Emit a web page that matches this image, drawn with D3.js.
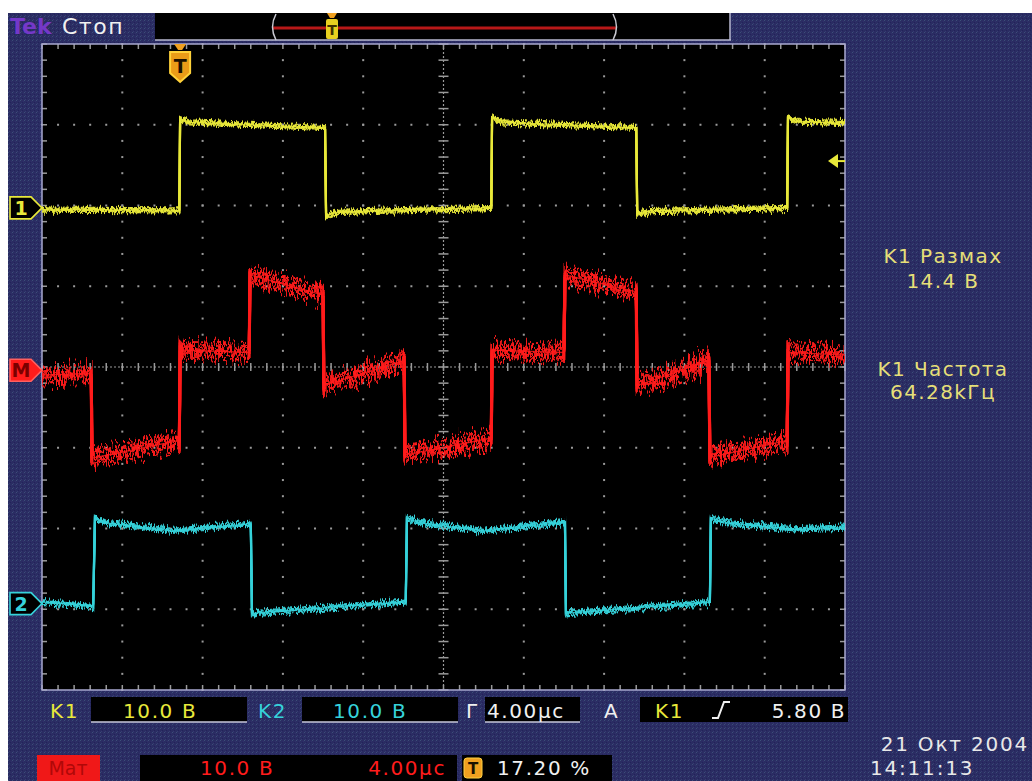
<!DOCTYPE html>
<html>
<head>
<meta charset="utf-8">
<script src="https://cdn.jsdelivr.net/npm/d3@7"></script>
<style>
  body { margin: 0; background: #ffffff; }
  svg { display: block; }
  text { font-family: "DejaVu Sans", sans-serif; }
</style>
</head>
<body>
<svg id="scope" width="1032" height="781"></svg>
<script>
// ---- Acquisition settings ----
const timeDomain = [0, 40];          // µs across 10 divisions (4.00 µs/div)
const divisionDomain = [-4, 4];      // vertical divisions
const k1VoltsPerDiv = 10;
const k2VoltsPerDiv = 10;
const mathVoltsPerDiv = 10;
const k1OffsetDiv = 1.97;
const k2OffsetDiv = -2.93;
const mathOffsetDiv = -0.04;
const triggerLevel = 5.80;           // V, on K1
const triggerPercent = 17.20;        // trigger position in record

// ---- Traces: [time µs, volts] ----
const k1Trace = [
  [0, -0.2], [6.84, -0.3], [6.88, 11.0], [7.3, 10.6], [14.1, 9.9],
  [14.15, -0.9], [14.8, -0.5], [22.38, 0.0], [22.42, 11.2], [22.9, 10.6],
  [29.6, 9.9], [29.65, -0.7], [30.3, -0.4], [37.12, 0.0], [37.16, 11.2],
  [37.6, 10.7], [40, 10.5]
];
const k2Trace = [
  [0, 0.2], [2.55, -0.3], [2.64, 10.6], [3.2, 10.0], [6.5, 9.0], [10.4, 9.9],
  [10.46, -1.2], [18.12, 0.25], [18.18, 10.6], [18.8, 10.0], [22.0, 9.0],
  [26.05, 10.1], [26.1, -1.2], [33.27, 0.2], [33.32, 10.6], [34.0, 10.0],
  [37.5, 9.2], [40, 9.4]
];
const mathTrace = [
  [0, -0.6], [2.45, -0.4], [2.49, -10.9], [6.84, -8.7], [6.88, 2.5],
  [10.32, 2.2], [10.36, 11.8], [14.0, 9.3], [14.04, -1.9], [18.04, 1.2],
  [18.08, -10.5], [22.38, -8.4], [22.42, 2.5], [26.0, 2.2], [26.05, 11.8],
  [29.6, 9.7], [29.64, -1.9], [33.22, 1.2], [33.27, -10.8], [37.12, -8.7],
  [37.16, 2.2], [40, 1.9]
];

// ---- Readouts ----
const headerLabels = ["Tek", "Стоп"];
const measureLabels = ["K1 Размах", "14.4 В", "K1 Частота", "64.28kГц"];
const statusRow1 = ["K1", "10.0 В", "K2", "10.0 В", "Г", "4.00µс", "A", "K1", "5.80 В"];
const statusRow2 = ["Мат", "10.0 В", "4.00µс", "17.20 %"];
const dateLabels = ["21 Окт 2004", "14:11:13"];

// ---- Colours ----
const cYellow = "#e8e83a";
const cRed = "#ff1c1c";
const cCyan = "#36d2da";
const cText = "#e6df78";
const cGrid = "#9a9a9a";

const svg = d3.select("#scope");
const defs = svg.append("defs");

// dithered navy panel
const pat = defs.append("pattern").attr("id", "navy").attr("width", 4).attr("height", 4)
  .attr("patternUnits", "userSpaceOnUse");
pat.append("rect").attr("width", 4).attr("height", 4).attr("fill", "#2a2c62");
pat.append("rect").attr("x", 0).attr("y", 0).attr("width", 1).attr("height", 1).attr("fill", "#3c4e78");
pat.append("rect").attr("x", 2).attr("y", 2).attr("width", 1).attr("height", 1).attr("fill", "#22225a");
pat.append("rect").attr("x", 1).attr("y", 3).attr("width", 1).attr("height", 1).attr("fill", "#363c72");
pat.append("rect").attr("x", 3).attr("y", 1).attr("width", 1).attr("height", 1).attr("fill", "#30306a");

// scales
const x = d3.scaleLinear().domain(timeDomain).range([42, 845]);
const y = d3.scaleLinear().domain(divisionDomain).range([690, 44]);
const xDiv = d3.scaleLinear().domain([0, 10]).range(x.range());

const yK1 = v => y(k1OffsetDiv + v / k1VoltsPerDiv);
const yK2 = v => y(k2OffsetDiv + v / k2VoltsPerDiv);
const yM = v => y(mathOffsetDiv + v / mathVoltsPerDiv);

// panel
svg.append("rect").attr("x", 8).attr("y", 13).attr("width", 1024).attr("height", 768).attr("fill", "url(#navy)");

// header record bar
const hdr = svg.append("g");
hdr.append("rect").attr("x", 155).attr("y", 13).attr("width", 575).attr("height", 27).attr("fill", "#000");
hdr.append("line").attr("x1", 155).attr("x2", 731).attr("y1", 40).attr("y2", 40).attr("stroke", "#b8b8d0").attr("stroke-width", 1.5);
hdr.append("line").attr("x1", 730).attr("x2", 730).attr("y1", 13).attr("y2", 40).attr("stroke", "#b8b8d0").attr("stroke-width", 1.5);
const recL = 273, recR = 616;
hdr.append("line").attr("x1", recL).attr("x2", recR).attr("y1", 28).attr("y2", 28).attr("stroke", "#b81818").attr("stroke-width", 3);
hdr.append("path").attr("d", `M${recL + 3},14 Q${recL - 4},27 ${recL + 3},40`).attr("fill", "none").attr("stroke", "#c8c8d0").attr("stroke-width", 1.5);
hdr.append("path").attr("d", `M${recR - 3},14 Q${recR + 4},27 ${recR - 3},40`).attr("fill", "none").attr("stroke", "#c8c8d0").attr("stroke-width", 1.5);
const recT = recL + (recR - recL) * triggerPercent / 100;
hdr.append("path").attr("d", `M${recT - 5},13 h10 l-3,5 h-4 z`).attr("fill", "#f0a020");
hdr.append("rect").attr("x", recT - 6).attr("y", 19).attr("width", 12).attr("height", 20).attr("rx", 2).attr("fill", "#e8d020");
hdr.append("text").attr("x", recT).attr("y", 35).attr("text-anchor", "middle").attr("font-size", 14).attr("font-weight", "bold").attr("fill", "#403000").text("T");

svg.append("text").attr("x", 10).attr("y", 34).attr("font-size", 22).attr("font-weight", "bold").attr("fill", "#7438c8").text(headerLabels[0]);
svg.append("text").attr("x", 62).attr("y", 34).attr("font-size", 22).attr("letter-spacing", 1.5).attr("fill", "#f0f0f0").text(headerLabels[1]);

// graticule
const grat = svg.append("g");
grat.append("rect").attr("x", x.range()[0]).attr("y", y.range()[1]).attr("width", x.range()[1] - x.range()[0])
  .attr("height", y.range()[0] - y.range()[1]).attr("fill", "#000");

const minorX = d3.range(0, 50.001, 1).map(i => xDiv(i / 5));
const minorY = d3.range(0, 40.001, 1).map(i => y(-4 + i / 5));

// dotted division lines
for (let i = 1; i < 10; i++) {
  if (i === 5) continue;
  const gx = xDiv(i);
  minorY.forEach(py => grat.append("rect").attr("x", gx - 1).attr("y", py - 1).attr("width", 2).attr("height", 2).attr("fill", cGrid));
}
for (let j = -3; j <= 3; j++) {
  if (j === 0) continue;
  const gy = y(j);
  minorX.forEach(px => grat.append("rect").attr("x", px - 1).attr("y", gy - 1).attr("width", 2).attr("height", 2).attr("fill", cGrid));
}
// centre axes with minor ticks
const cx = xDiv(5), cy = y(0);
grat.append("line").attr("x1", x.range()[0]).attr("x2", x.range()[1]).attr("y1", cy).attr("y2", cy)
  .attr("stroke", cGrid).attr("stroke-width", 1.2).attr("stroke-dasharray", "2,2");
grat.append("line").attr("x1", cx).attr("x2", cx).attr("y1", y.range()[1]).attr("y2", y.range()[0])
  .attr("stroke", cGrid).attr("stroke-width", 1.2).attr("stroke-dasharray", "2,2");
minorX.forEach(px => grat.append("line").attr("x1", px).attr("x2", px).attr("y1", cy - 4).attr("y2", cy + 4).attr("stroke", cGrid).attr("stroke-width", 1.5));
minorY.forEach(py => grat.append("line").attr("x1", cx - 5).attr("x2", cx + 5).attr("y1", py).attr("y2", py).attr("stroke", cGrid).attr("stroke-width", 1.5));
// edge ticks
minorX.forEach(px => {
  grat.append("line").attr("x1", px).attr("x2", px).attr("y1", y.range()[1]).attr("y2", y.range()[1] + 5).attr("stroke", cGrid).attr("stroke-width", 1.5);
  grat.append("line").attr("x1", px).attr("x2", px).attr("y1", y.range()[0] - 5).attr("y2", y.range()[0]).attr("stroke", cGrid).attr("stroke-width", 1.5);
});
minorY.forEach(py => {
  grat.append("line").attr("x1", x.range()[0]).attr("x2", x.range()[0] + 5).attr("y1", py).attr("y2", py).attr("stroke", cGrid).attr("stroke-width", 1.5);
  grat.append("line").attr("x1", x.range()[1] - 5).attr("x2", x.range()[1]).attr("y1", py).attr("y2", py).attr("stroke", cGrid).attr("stroke-width", 1.5);
});
grat.append("rect").attr("x", x.range()[0]).attr("y", y.range()[1]).attr("width", x.range()[1] - x.range()[0])
  .attr("height", y.range()[0] - y.range()[1]).attr("fill", "none").attr("stroke", "#a8a8d0").attr("stroke-width", 1.5);

// trace noise filters (vertical jitter only)
function noiseFilter(id, seed, fx, fy, scale) {
  const f = defs.append("filter").attr("id", id).attr("filterUnits", "userSpaceOnUse")
    .attr("x", 30).attr("y", 0).attr("width", 830).attr("height", 781)
    .attr("color-interpolation-filters", "sRGB");
  f.append("feTurbulence").attr("type", "fractalNoise").attr("baseFrequency", `${fx} ${fy}`)
    .attr("numOctaves", 2).attr("seed", seed).attr("result", "n");
  f.append("feColorMatrix").attr("in", "n").attr("type", "matrix")
    .attr("values", "0 0 0 0 0.5  0 1 0 0 0  0 0 0 0 0  0 0 0 0 1").attr("result", "m");
  f.append("feDisplacementMap").attr("in", "SourceGraphic").attr("in2", "m").attr("scale", scale)
    .attr("xChannelSelector", "R").attr("yChannelSelector", "G");
}
defs.append("clipPath").attr("id", "screen").append("rect")
  .attr("x", x.range()[0]).attr("y", y.range()[1]).attr("width", x.range()[1] - x.range()[0]).attr("height", y.range()[0] - y.range()[1]);

const traces = svg.append("g").attr("clip-path", "url(#screen)");
function drawTrace(data, fy, color, name, layers, scale, fx, width) {
  const line = d3.line().x(d => x(d[0])).y(d => fy(d[1]));
  for (let i = 0; i < layers; i++) {
    noiseFilter(`${name}${i}`, 7 + i * 13, fx, 0.03, scale);
    traces.append("path").datum(data).attr("d", line).attr("fill", "none")
      .attr("stroke", color).attr("stroke-width", width).attr("opacity", i === 0 ? 1 : 0.9)
      .attr("filter", `url(#${name}${i})`);
  }
  // clean core line keeps the edges continuous
  traces.append("path").datum(data).attr("d", line).attr("fill", "none")
    .attr("stroke", color).attr("stroke-width", 1.4).attr("opacity", 0.8);
}
drawTrace(k1Trace, yK1, cYellow, "nk1_", 4, 14, 0.55, 2.2);
drawTrace(k2Trace, yK2, cCyan, "nk2_", 4, 16, 0.55, 2.2);
drawTrace(mathTrace, yM, cRed, "nm_", 6, 48, 0.35, 3);

// channel ground markers
function marker(py, fill, stroke, label, labelColor) {
  const g = svg.append("g");
  g.append("path").attr("d", `M10,${py - 11} H31 L42,${py} L31,${py + 11} H10 Z`)
    .attr("fill", fill).attr("stroke", stroke).attr("stroke-width", 1.6);
  g.append("text").attr("x", 21).attr("y", py + 7).attr("text-anchor", "middle")
    .attr("font-size", 19).attr("font-weight", "bold").attr("fill", labelColor).text(label);
}
marker(yK1(0), "#000", cYellow, "1", cYellow);
marker(yM(0), cRed, "#ff6060", "M", "#7a0000");
marker(yK2(0), "#000", cCyan, "2", cCyan);

// trigger position marker
const tx = x.range()[0] + (x.range()[1] - x.range()[0]) * triggerPercent / 100;
svg.append("path").attr("d", `M${tx - 6},44 h12 l-4,6 h-4 z`).attr("fill", "#f0a020");
svg.append("path").attr("d", `M${tx - 10},52 h20 v21 l-10,9 l-10,-9 z`).attr("fill", "#ea9c18").attr("stroke", "#ffd23a").attr("stroke-width", 2);
svg.append("text").attr("x", tx).attr("y", 73).attr("text-anchor", "middle").attr("font-size", 19).attr("font-weight", "bold").attr("fill", "#1a1000").text("T");

// trigger level arrow
const ty = yK1(triggerLevel);
svg.append("path").attr("d", `M828,${ty} L838,${ty - 7} L838,${ty + 7} Z`).attr("fill", cYellow);
svg.append("line").attr("x1", 838).attr("x2", 845).attr("y1", ty).attr("y2", ty).attr("stroke", cYellow).attr("stroke-width", 2);

// measurement readouts
const mx = 943;
[[measureLabels[0], 263], [measureLabels[1], 288], [measureLabels[2], 376], [measureLabels[3], 399]].forEach(([t, by]) => {
  svg.append("text").attr("x", mx).attr("y", by).attr("text-anchor", "middle").attr("font-size", 20)
    .attr("letter-spacing", 1.4).attr("fill", cText).text(t);
});

// status bar, first row
function box(x0, x1, y0, y1, underline) {
  svg.append("rect").attr("x", x0).attr("y", y0).attr("width", x1 - x0).attr("height", y1 - y0).attr("fill", "#000");
  if (underline) svg.append("line").attr("x1", x0).attr("x2", x1).attr("y1", y1).attr("y2", y1).attr("stroke", "#c8c8dc").attr("stroke-width", 1.5);
}
function label(t, px, py, color, anchor) {
  svg.append("text").attr("x", px).attr("y", py).attr("text-anchor", anchor || "start").attr("font-size", 20)
    .attr("letter-spacing", 1.6).attr("fill", color).text(t);
}
box(91, 247, 697, 722, true);
box(302, 458, 697, 722, true);
box(485, 580, 697, 722, true);
box(640, 848, 697, 722, false);
label(statusRow1[0], 50, 718, cYellow);
label(statusRow1[1], 123, 718, cYellow);
label(statusRow1[2], 258, 718, cCyan);
label(statusRow1[3], 333, 718, cCyan);
label(statusRow1[4], 466, 718, "#f0f0f0");
label(statusRow1[5], 487, 718, "#f0f0f0");
label(statusRow1[6], 604, 718, "#f0f0f0");
label(statusRow1[7], 655, 718, cYellow);
svg.append("path").attr("d", "M712,718 L718,718 L724,702 L730,702").attr("fill", "none").attr("stroke", "#f0f0f0").attr("stroke-width", 2);
label(statusRow1[8], 846, 718, "#f0f0f0", "end");

// status bar, second row
svg.append("rect").attr("x", 37).attr("y", 755).attr("width", 63).attr("height", 26).attr("fill", "#f01818");
svg.append("text").attr("x", 68).attr("y", 775).attr("text-anchor", "middle").attr("font-size", 19).attr("fill", "#b00808").text(statusRow2[0]);
box(140, 457, 755, 781, false);
label(statusRow2[1], 200, 775, cRed);
label(statusRow2[2], 446, 775, cRed, "end");
box(462, 612, 755, 781, false);
svg.append("rect").attr("x", 464).attr("y", 758).attr("width", 18).attr("height", 20).attr("rx", 3).attr("fill", "#f0a020").attr("stroke", "#ffd040");
svg.append("text").attr("x", 473).attr("y", 774).attr("text-anchor", "middle").attr("font-size", 15).attr("font-weight", "bold").attr("fill", "#1a1000").text("T");
label(statusRow2[3], 497, 775, "#f0f0f0");

// date and time
svg.append("text").attr("x", 1029).attr("y", 751).attr("text-anchor", "end").attr("font-size", 20).attr("letter-spacing", 1.8).attr("fill", "#e8e8e8").text(dateLabels[0]);
svg.append("text").attr("x", 870).attr("y", 775).attr("font-size", 20).attr("letter-spacing", 1.8).attr("fill", "#e8e8e8").text(dateLabels[1]);
</script>
</body>
</html>
